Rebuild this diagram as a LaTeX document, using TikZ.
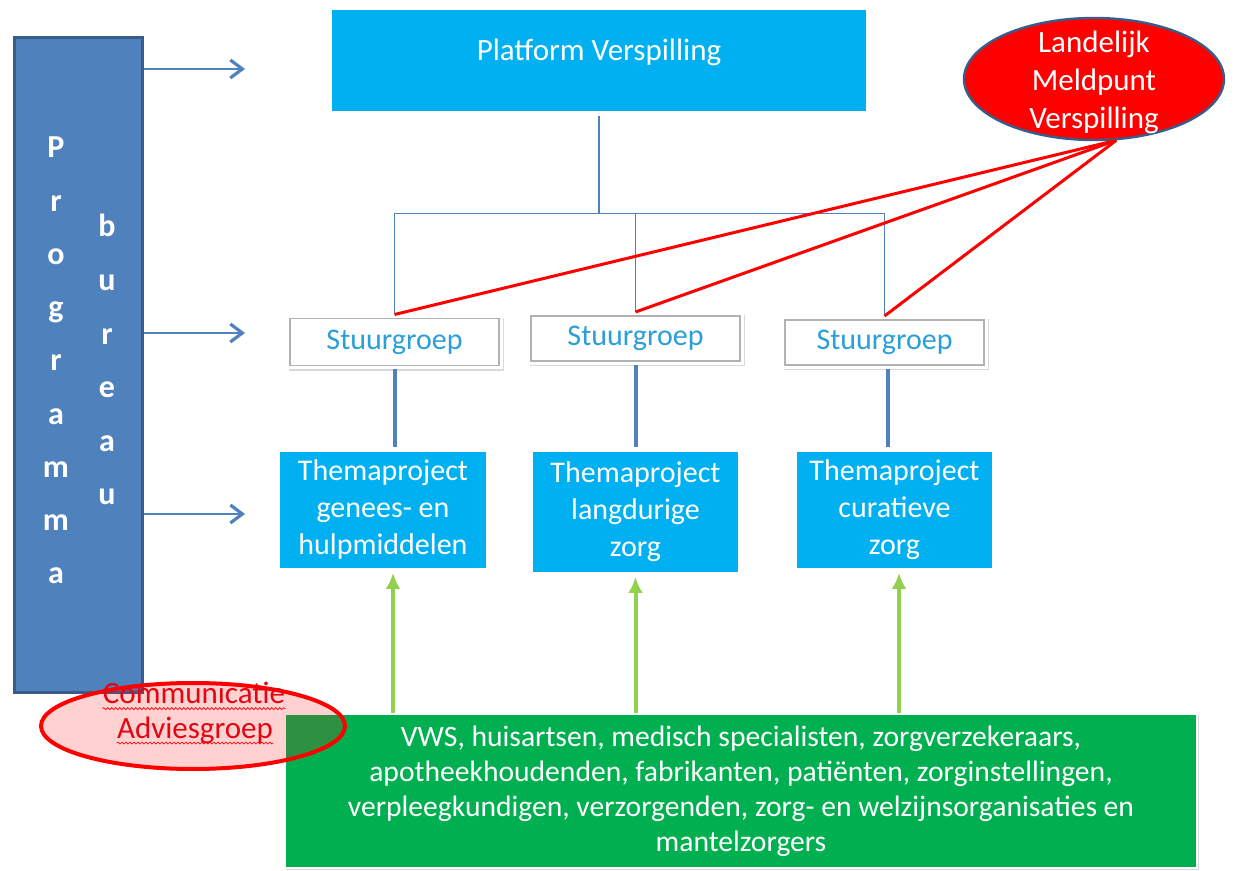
\documentclass[tikz,border=0pt]{standalone}
\usepackage{fontspec}
\setmainfont{Carlito}
\usetikzlibrary{arrows.meta,shapes.geometric,shadows,decorations.pathmorphing}
\definecolor{progblue}{HTML}{4F81BD}
\definecolor{progedge}{HTML}{385D8A}
\definecolor{skyfill}{HTML}{00B0F0}
\definecolor{greenfill}{HTML}{00B050}
\definecolor{lgreen}{HTML}{92D050}
\definecolor{stext}{HTML}{2A9FD8}
\definecolor{cred}{HTML}{E30613}
\begin{document}
\begin{tikzpicture}[x=0.5pt,y=-0.5pt,
  shad/.style={drop shadow={shadow xshift=0.8pt,shadow yshift=-1.2pt,opacity=0.3}},
  skybox/.style={rectangle,fill=skyfill,draw=white,line width=2.5pt,text=white,align=center,
    font=\fontsize{15}{18.5}\selectfont,inner sep=0pt,shad},
  stbox/.style={rectangle,fill=white,draw=white,line width=1pt,text=stext,
    font=\fontsize{15}{18}\selectfont,inner sep=0pt,shad},
  progletter/.style={text=white,font=\bfseries\fontsize{16}{19}\selectfont,anchor=base,inner sep=0pt},
  treeline/.style={draw=progblue,line width=0.6pt},
  redline/.style={draw=red,line width=1.5pt},
  conn/.style={draw=progblue,line width=2pt},
  barrow/.style={draw=progblue,line width=1.4pt,-{Straight Barb[length=6pt,width=9pt,line width=1.6pt]}},
  garrow/.style={draw=lgreen,line width=2pt,-{Latex[length=8pt,width=7.5pt]}},
]
\useasboundingbox[fill=white] (0,0) rectangle (1254,871);

% Programma bureau
\node[rectangle,fill=progblue,draw=progedge,line width=1.5pt,minimum width=64pt,minimum height=327pt,inner sep=0pt] (prog) at (78,365) {};
\foreach \l [count=\i] in {P,r,o,g,r,a,m,m,a}
  \node[progletter] (pa\i) at (56,{158+53.25*(\i-1)}) {\l};
\foreach \l [count=\i] in {b,u,r,e,a,u}
  \node[progletter] (pb\i) at (107,{237+53.6*(\i-1)}) {\l};

\coordinate (a1) at (245,69);
\coordinate (a2) at (245,333);
\coordinate (a3) at (245,514);
\draw[barrow] (prog.east |- a1) -- (a1);
\draw[barrow] (prog.east |- a2) -- (a2);
\draw[barrow] (prog.east |- a3) -- (a3);

% Platform
\node[skybox,minimum width=269.5pt,minimum height=53pt,
  label={[name=platt,text=white,font=\fontsize{15.5}{18}\selectfont,yshift=4pt]center:Platform Verspilling}]
  (plat) at (599,60.5) {};

% Stuurgroep
\node[stbox,minimum width=107.5pt,minimum height=26.5pt] (s1) at (394.5,342) {Stuurgroep};
\node[stbox,minimum width=107.5pt,minimum height=25.5pt] (s2) at (635.5,338.5) {Stuurgroep};
\node[stbox,minimum width=102.5pt,minimum height=25.5pt] (s3) at (884.5,342.5) {Stuurgroep};
\foreach \s in {s1,s2,s3}
  \draw[draw=black!30,line width=0.6pt] ([shift={(4,4)}]\s.north west) rectangle ([shift={(-4,-4)}]\s.south east);

% Themaprojects
\node[skybox,minimum width=105.5pt,minimum height=60.5pt] (t1) at (383,510) {Themaproject\\genees- en\\hulpmiddelen};
\node[skybox,minimum width=105pt,minimum height=62.5pt] (t2) at (635.5,512) {Themaproject\\langdurige\\zorg};
\node[skybox,minimum width=100pt,minimum height=60.5pt] (t3) at (894.5,510) {Themaproject\\curatieve\\zorg};

% tree
\coordinate (tj) at (599,213.5);
\draw[treeline] (plat.south) -- (tj);
\draw[treeline] (s1.north) |- (tj) -| (s3.north);
\draw[treeline] (s2.north) -- (s2.north |- tj);

% Landelijk Meldpunt
\node[ellipse,fill=red,draw=progedge,line width=1.2pt,minimum width=130pt,minimum height=61pt,inner sep=0pt] (lm) at (1094,79) {};
\node[text=white,align=center,font=\fontsize{15.5}{19}\selectfont,inner sep=0pt] (lmt) at (1094,82) {Landelijk\\Meldpunt\\Verspilling};
\draw[redline] (lm.-70) -- (s1.north);
\draw[redline] (lm.-70) -- (s2.north);
\draw[redline] (lm.-70) -- (s3.north);

% connectors stuurgroep -> themaproject
\draw[conn] (s1.south) -- (s1.south |- t1.north);
\draw[conn] (s2.south) -- (s2.south |- t2.north);
\draw[conn] ([xshift=1.5pt]s3.south) -- ([xshift=1.5pt]s3.south |- t3.north);

% green box
\node[rectangle,fill=greenfill,draw=white,line width=1pt,minimum width=456pt,minimum height=77pt,inner sep=0pt,
  text=white,align=center,font=\fontsize{14.8}{17.5}\selectfont,shad] (g) at (741,791)
  {\raisebox{0pt}[0pt][0pt]{}VWS, huisartsen, medisch specialisten, zorgverzekeraars,\\apotheekhoudenden, fabrikanten, patiënten, zorginstellingen,\\verpleegkundigen, verzorgenden, zorg- en welzijnsorganisaties en\\mantelzorgers};

\coordinate (ga1) at ([xshift=5pt]t1.south);
\coordinate (ga2) at (t2.south);
\coordinate (ga3) at ([xshift=2.25pt]t3.south);
\draw[garrow] (g.north -| ga1) -- (ga1);
\draw[garrow] (g.north -| ga2) -- (ga2);
\draw[garrow] (g.north -| ga3) -- (ga3);

% Communicatie Adviesgroep
\node[ellipse,fill=red,fill opacity=0.18,draw=red,draw opacity=1,line width=2pt,minimum width=152pt,minimum height=43pt,inner sep=0pt] (ce) at (193,726) {};
\node[text=cred,font=\fontsize{15.5}{18}\selectfont,inner sep=0pt] (c1) at (194,693) {Communicatie};
\node[text=cred,font=\fontsize{15.5}{18}\selectfont,inner sep=0pt] (c2) at (195,730) {Adviesgroep};
\draw[red,line width=0.3pt,decorate,decoration={snake,amplitude=0.5pt,segment length=2pt}]
  ([yshift=-2.5pt]c1.base west) -- ([yshift=-2.5pt]c1.base east);
\draw[red,line width=0.3pt,decorate,decoration={snake,amplitude=0.5pt,segment length=2pt}]
  ([yshift=-2.5pt]c2.base west) -- ([yshift=-2.5pt]c2.base east);
\end{tikzpicture}
\end{document}
